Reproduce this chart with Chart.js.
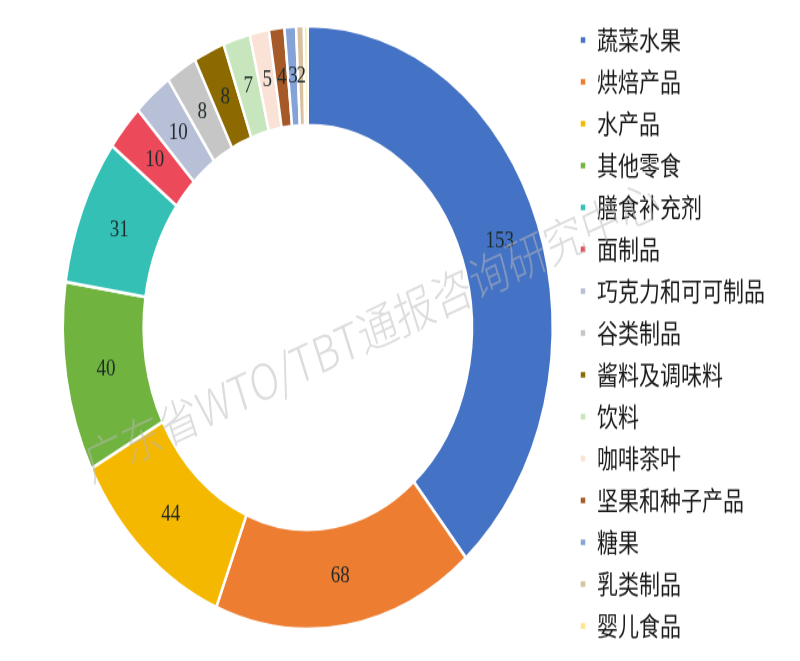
<!DOCTYPE html>
<html>
<head>
<meta charset="utf-8">
<script src="https://cdn.jsdelivr.net/npm/chart.js@4.4.1/dist/chart.umd.min.js"></script>
<style>
  html, body { margin: 0; padding: 0; background: #fff; overflow: hidden; }
  #pie { display: block; }
</style>
</head>
<body>
<canvas id="pie" width="800" height="537" style="width:800px;height:661px"></canvas>
<script>
// --- Data ---
const categories = [
  "蔬菜水果", "烘焙产品", "水产品", "其他零食", "膳食补充剂",
  "面制品", "巧克力和可可制品", "谷类制品", "酱料及调味料", "饮料",
  "咖啡茶叶", "坚果和种子产品", "糖果", "乳类制品", "婴儿食品"
];
const counts = [153, 68, 44, 40, 31, 10, 10, 8, 8, 7, 5, 4, 3, 2, 1];
const colors = [
  "#4472c4", "#ed7d31", "#f5b800", "#70b33f", "#35c0b6",
  "#ec4a5a", "#b7c0d6", "#c6c6c6", "#8c6a00", "#c8e6bd",
  "#fbe2d6", "#a65a28", "#86a3d8", "#d8c0a0", "#ffe48a"
];
const watermark = "广东省WTO/TBT通报咨询研究中心";

// --- Value labels at each slice centre, plus the faint watermark ---
const sliceLabels = {
  id: "sliceLabels",
  afterDatasetsDraw(chart) {
    const ctx = chart.ctx;
    const meta = chart.getDatasetMeta(0);
    ctx.save();
    ctx.font = "19px 'Liberation Serif', serif";
    ctx.fillStyle = "#1e2a2a";
    ctx.textAlign = "center";
    ctx.textBaseline = "middle";
    meta.data.forEach((arc, i) => {
      if (counts[i] < 2) return;
      const p = arc.tooltipPosition();
      ctx.fillText(String(counts[i]), p.x, p.y);
    });
    ctx.restore();

    // watermark, placed so that "通" sits at (377, 266)
    ctx.save();
    ctx.font = "300 40px 'Noto Sans CJK SC', sans-serif";
    const lead = ctx.measureText("广东省WTO/TBT").width + 20;
    ctx.translate(377, 266);
    ctx.rotate(-21 * Math.PI / 180);
    ctx.fillStyle = "rgba(185,185,185,0.5)";
    ctx.textBaseline = "middle";
    ctx.fillText(watermark, -lead, 0);
    ctx.restore();
  }
};

const chart = new Chart(document.getElementById("pie"), {
  type: "doughnut",
  data: {
    labels: categories,
    datasets: [{
      data: counts,
      backgroundColor: colors,
      borderColor: "#ffffff",
      borderWidth: 2.5
    }]
  },
  options: {
    responsive: false,
    animation: false,
    radius: 245,
    cutout: "67%",
    layout: { padding: { left: 49, right: 25, top: -1, bottom: 5 } },
    plugins: {
      tooltip: { enabled: false },
      legend: {
        position: "right",
        title: { display: true, text: "", font: { size: 8, lineHeight: 1.25 }, padding: 0 },
        labels: {
          boxWidth: 7,
          boxHeight: 7,
          padding: 13,
          color: "#1a1a1a",
          font: { family: "'Noto Sans CJK SC', sans-serif", size: 21 }
        }
      }
    }
  },
  plugins: [sliceLabels]
});
</script>
</body>
</html>
